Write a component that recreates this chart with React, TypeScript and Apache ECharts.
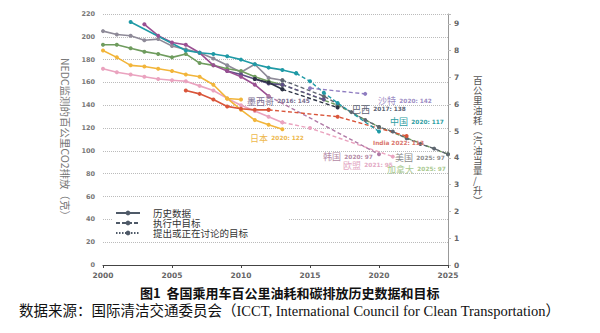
import React, { useEffect, useRef } from 'react';
import * as echarts from 'echarts';

// ---- data (g CO2 / km, NEDC) ----
const usHistory = [[2000,205],[2001,202],[2002,201],[2003,197],[2004,198],[2005,192],[2006,189],[2007,186],[2008,181],[2009,175],[2010,169],[2011,176],[2012,164],[2013,162]];
const usTarget = [[2013,162],[2016,148],[2017,141],[2018,134],[2019,127],[2020,121],[2021,117],[2022,111],[2023,106],[2024,102],[2025,97]];
const canadaHistory = [[2000,193],[2001,193],[2002,190],[2003,187],[2004,185],[2005,182],[2006,185],[2007,177],[2008,175],[2009,172],[2010,170],[2011,165],[2012,161],[2013,158]];
const canadaTarget = [[2013,158],[2017,140],[2020,121],[2025,97]];
const euHistory = [[2000,172],[2001,169],[2002,167],[2003,165],[2004,163],[2005,162],[2006,161],[2007,157],[2008,153],[2009,146],[2010,140],[2011,135],[2012,130],[2013,125]];
const euTarget = [[2013,125],[2015,120],[2021,95]];
const japanHistoryA = [[2000,188],[2001,182],[2002,175],[2003,174],[2004,172],[2005,170],[2006,167],[2007,165],[2008,158],[2009,146],[2010,145]];
const japanHistoryB = [[2009,146],[2010,136],[2011,127],[2012,123],[2013,119]];
const chinaHistory = [[2002,213],[2006,188],[2007,186],[2008,185],[2009,183],[2010,180],[2011,176],[2012,173],[2013,171],[2014,168]];
const chinaTarget = [[2014,168],[2015,161],[2016,151],[2017,142],[2020,117]];
const koreaHistory = [[2003,211],[2004,201],[2005,195],[2006,193],[2007,186],[2008,175],[2009,170],[2010,165],[2011,158],[2012,148]];
const koreaTarget = [[2012,148],[2020,97]];
const mexicoHistory = [[2009,170],[2010,167],[2011,163],[2012,159],[2013,158]];
const mexicoTarget = [[2013,158],[2016,145]];
const brazilHistory = [[2011,163],[2012,160],[2013,154]];
const brazilTarget = [[2013,154],[2017,138]];
const indiaHistory = [[2006,153],[2007,150],[2008,145],[2009,139],[2010,137],[2011,136],[2012,136]];
const indiaTarget = [[2012,136],[2017,130],[2022,113]];
const saudiTarget = [[2015,155],[2019,150]];

const legendNames = ['历史数据', '执行中目标', '提出或正在讨论的目标'];
const xTicks = { min: 2000, max: 2025, interval: 5 };
const leftTicks = { min: 0, max: 220, interval: 20 };
const rightTicks = { min: 0, max: 9.37, interval: 1 };

const CJK = '"Noto Sans CJK SC", sans-serif';
const NUM = '"DejaVu Sans", sans-serif';

function hist(name: string, data: number[][], color: string) {
  return {
    type: 'line', name, data, symbol: 'circle', symbolSize: 4,
    lineStyle: { width: 1.6, color }, itemStyle: { color }, silent: true,
  };
}
function target(name: string, data: number[][], color: string, dash: any = [4, 2.5]) {
  return {
    type: 'line', name, data, symbol: 'circle', symbolSize: 4,
    lineStyle: { width: 1.4, color, type: dash }, itemStyle: { color }, silent: true,
  };
}
function legendSeries(name: string, dash: any) {
  return {
    type: 'line', name, data: [], symbol: 'circle', symbolSize: 5,
    lineStyle: { width: 2, color: '#4f5a68', type: dash }, itemStyle: { color: '#4f5a68' },
  };
}

function note(cn: string, num: string, color: string, x: number, y: number) {
  return {
    type: 'text', x, y, z: 50,
    style: {
      text: cn ? `{a|${cn}} {b|${num}}` : `{b|${num}}`,
      verticalAlign: 'middle',
      rich: {
        a: { fontSize: 9, fontFamily: CJK, fill: color },
        b: { fontSize: 5.8, fontWeight: 'bold', fontFamily: NUM, fill: color },
      },
    },
  };
}

export default function App() {
  const ref = useRef<HTMLDivElement>(null);
  useEffect(() => {
    if (!ref.current) return;
    const chart = echarts.init(ref.current, null, { renderer: 'svg' });
    chart.setOption({
      animation: false,
      backgroundColor: '#fff',
      grid: { left: 103, right: 152, top: 14, bottom: 68 },
      title: [
        { text: '图1  各国乘用车百公里油耗和碳排放历史数据和目标', left: 140, top: 286, padding: 0,
          textStyle: { fontSize: 13, fontWeight: 'bold', color: '#111', fontFamily: CJK } },
        { text: '数据来源：国际清洁交通委员会（ICCT, International Council for Clean Transportation）', left: 19, top: 304, padding: 0,
          textStyle: { fontSize: 14.5, fontWeight: 'normal', color: '#111', fontFamily: '"Liberation Serif", "Noto Sans CJK SC", serif' } },
      ],
      legend: {
        data: legendNames, orient: 'vertical', left: 113, top: 207, itemWidth: 24, itemHeight: 6, itemGap: 0,
        backgroundColor: '#fff', padding: [1, 40, 1, 2],
        textStyle: { fontSize: 9.5, lineHeight: 10, color: '#333', fontFamily: CJK, padding: [0, 0, 0, 8] },
      },
      xAxis: {
        type: 'value', ...xTicks,
        axisLine: { show: true, lineStyle: { color: '#444', width: 1.2 } },
        axisTick: { show: true, length: 3, lineStyle: { color: '#444' } },
        splitLine: { show: false },
        axisLabel: { fontSize: 7.5, fontWeight: 'bold', color: '#666', fontFamily: NUM, margin: 6,
          formatter: (v: number) => String(v) },
      },
      yAxis: [
        {
          type: 'value', ...leftTicks,
          name: 'NEDC监测的百公里CO2排放（克）', nameLocation: 'middle', nameRotate: -90, nameGap: 30,
          nameTextStyle: { fontSize: 10.5, color: '#777', fontFamily: CJK },
          axisLine: { show: false }, axisTick: { show: false },
          axisLabel: { fontSize: 6.5, fontWeight: 'bold', color: '#777', fontFamily: NUM, margin: 8 },
          splitLine: { show: true, lineStyle: { type: 'dotted', color: '#bbb', width: 1 } },
        },
        {
          type: 'value', ...rightTicks, position: 'right',
          name: '百\n公\n里\n油\n耗\n︵\n汽\n油\n当\n量\n/\n升\n︶', nameLocation: 'middle', nameRotate: 0, nameGap: 25,
          nameTextStyle: { fontSize: 9.5, lineHeight: 10, color: '#555', fontFamily: CJK, padding: [6, 0, 0, 0] },
          axisLine: { show: true, lineStyle: { color: '#999', width: 1 } },
          axisTick: { show: true, length: 3, lineStyle: { color: '#bbb' } },
          axisLabel: { fontSize: 7.5, fontWeight: 'bold', color: '#666', fontFamily: NUM, margin: 6,
            formatter: (v: number) => (Math.abs(v - Math.round(v)) < 1e-6 ? String(Math.round(v)) : '') },
          splitLine: { show: false },
        },
      ],
      series: [
        hist('美国历史', usHistory, '#8e8a98'),
        hist('加拿大历史', canadaHistory, '#6f9c5e'),
        hist('欧盟历史', euHistory, '#eaa3bf'),
        hist('日本历史A', japanHistoryA, '#f2b53a'),
        hist('日本历史B', japanHistoryB, '#f2b53a'),
        hist('印度历史', indiaHistory, '#d9553a'),
        hist('墨西哥历史', mexicoHistory, '#5e4e86'),
        hist('巴西历史', brazilHistory, '#2c3344'),
        hist('韩国历史', koreaHistory, '#9a4f92'),
        hist('中国历史', chinaHistory, '#1f9aa6'),
        target('欧盟目标', euTarget, '#eaa3bf'),
        target('加拿大目标', canadaTarget, '#6f9c5e'),
        target('美国目标', usTarget, '#5e6670'),
        target('韩国目标', koreaTarget, '#b07aa6'),
        target('印度目标', indiaTarget, '#d9553a'),
        target('墨西哥目标', mexicoTarget, '#5e4e86'),
        target('巴西目标', brazilTarget, '#2c3344'),
        target('中国目标', chinaTarget, '#1f9aa6'),
        target('沙特目标', saudiTarget, '#8e7cc0'),
        legendSeries(legendNames[0], 'solid'),
        legendSeries(legendNames[1], [4, 2]),
        legendSeries(legendNames[2], [1.5, 1.5]),
      ],
      graphic: [
        note('墨西哥', '2016: 145', '#7a6d90', 247, 101),
        note('日本', '2020: 122', '#eeb84c', 250, 138),
        note('沙特', '2020: 142', '#9d8cc4', 378, 100.5),
        note('巴西', '2017: 138', '#5b6272', 352, 109),
        note('中国', '2020: 117', '#2f9ea3', 390, 121.5),
        note('', 'India 2022: 113', '#d9736b', 373, 143),
        note('韩国', '2020: 97', '#b48aa6', 323, 156.5),
        note('欧盟', '2021: 95', '#e3a9c4', 343, 165),
        note('美国', '2025: 97', '#8c8c8c', 395, 157.5),
        note('加拿大', '2025: 97', '#a9c98f', 387, 169),
      ],
    });
    return () => chart.dispose();
  }, []);
  return <div ref={ref} style={{ position: 'fixed', left: 0, top: 0, width: 600, height: 333 }} />;
}
